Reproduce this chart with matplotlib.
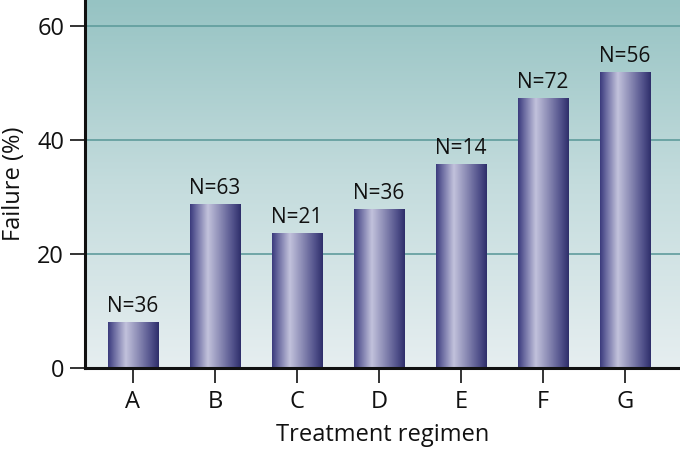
import numpy as np
import matplotlib
matplotlib.use("Agg")
import matplotlib.pyplot as plt
from matplotlib.colors import LinearSegmentedColormap

categories = ["A", "B", "C", "D", "E", "F", "G"]
failure = [8.0, 28.6, 23.6, 27.7, 35.6, 47.2, 51.8]
n_labels = ["N=36", "N=63", "N=21", "N=36", "N=14", "N=72", "N=56"]
yticks = [0, 20, 40, 60]

plt.rcParams['font.family'] = ['Open Sans', 'DejaVu Sans']

fig = plt.figure(figsize=(6.8, 4.5), dpi=100)
ax = fig.add_axes([0.125, 0.182, 0.875, 0.818])

ymax = 64.5
xmin, xmax = -0.585, 6.67
ax.set_xlim(xmin, xmax)
ax.set_ylim(0, ymax)

# background gradient
bg = LinearSegmentedColormap.from_list("bg", ["#e6eef0", "#c4dcdd", "#96c3c3"])
grad = np.linspace(0, 1, 256).reshape(-1, 1)
ax.imshow(grad, cmap=bg, origin="lower", aspect="auto",
          extent=[xmin, xmax, 0, ymax], zorder=0)

for y in yticks[1:]:
    ax.axhline(y, color="#5f9c9c", lw=1.2, zorder=1)

barcmap = LinearSegmentedColormap.from_list(
    "bar", [(0, "#3a3a7c"), (0.12, "#6a6aa0"), (0.35, "#c2c2dc"),
            (0.6, "#8a8ab4"), (0.85, "#50508a"), (1, "#2e2e6a")])
hgrad = np.linspace(0, 1, 256).reshape(1, -1)
width = 0.62
bars = ax.bar(range(len(categories)), failure, width=width, color="none", zorder=2)
for rect, lab in zip(bars, n_labels):
    x0, w, h = rect.get_x(), rect.get_width(), rect.get_height()
    ax.imshow(hgrad, cmap=barcmap, aspect="auto",
              extent=[x0, x0 + w, 0, h], zorder=2)
    ax.text(x0 + w / 2, h + 1.0, lab, ha="center", va="bottom",
            fontsize=15, color="#111111", zorder=3)

ax.set_xlim(xmin, xmax)
ax.set_ylim(0, ymax)
ax.set_xticks(range(len(categories)))
ax.set_xticklabels(categories)
ax.set_yticks(yticks)
ax.tick_params(axis="both", direction="out", length=11, width=1.2,
               labelsize=17, colors="#111111", pad=4)
ax.tick_params(axis="x", pad=5)
for s in ["top", "right"]:
    ax.spines[s].set_visible(False)
for s in ["left", "bottom"]:
    ax.spines[s].set_linewidth(2.2)
    ax.spines[s].set_color("#111111")
ax.set_xlabel("Treatment regimen", fontsize=17, color="#111111", labelpad=6)
ax.set_ylabel("Failure (%)", fontsize=17, color="#111111", labelpad=8)

fig.savefig("out.png", dpi=100)
